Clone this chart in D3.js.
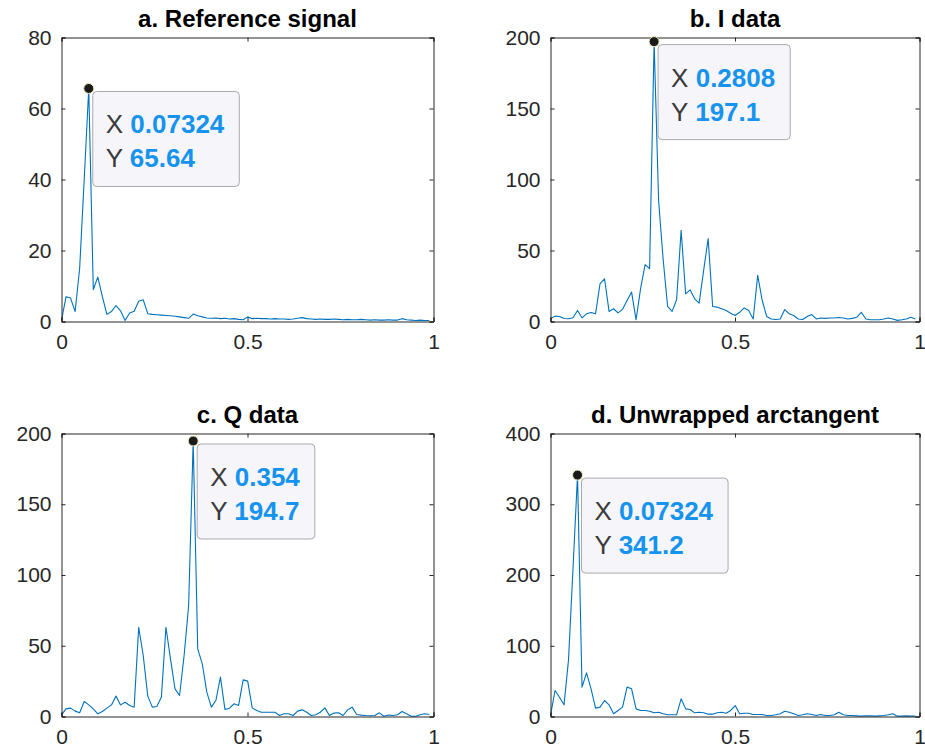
<!DOCTYPE html>
<html><head><meta charset="utf-8">
<script src="https://cdn.jsdelivr.net/npm/d3@7"></script>
<style>
body{margin:0;background:#fff}
svg{display:block}
text{font-family:"Liberation Sans",Arial,Helvetica,sans-serif}
</style>
</head><body>
<svg id="chart" width="925" height="755"></svg>
<script>
// ---------- data ----------
const binWidth = 25 / 2048; // frequency spacing of the FFT bins
const refSignal = [0.3,7.0,6.6,2.8,15.0,40.0,65.64,9.0,12.5,7.0,2.0,2.8,4.5,3.0,0.3,2.4,2.9,5.7,6.1,2.2,
  2.0,1.9,1.8,1.7,1.6,1.5,1.3,1.1,0.9,2.1,1.6,1.3,1.0,0.9,1.0,0.8,0.9,0.7,0.8,0.6,
  0.5,1.3,0.8,0.9,0.8,0.8,0.7,0.8,0.7,0.7,0.6,0.7,0.9,1.1,0.8,0.7,0.6,0.7,0.6,0.6,
  0.7,0.6,0.5,0.6,0.5,0.5,0.6,0.5,0.4,0.5,0.4,0.4,0.5,0.4,0.4,0.8,0.5,0.4,0.3,0.4,0.3,0.3];
const iData = [1.9,3.8,3.5,2.1,1.9,2.6,7.8,2.6,5.4,6.4,5.4,26.6,30.1,7.1,9.0,6.1,8.7,14.8,20.7,1.2,
  23.1,40.1,37.2,197.1,85,44,10.6,7.1,15.3,64.3,19.5,22.3,16.0,12.9,36.0,58.4,10.6,10.1,9.0,7.8,
  5.8,4.2,6.5,9.6,7.7,1.8,32.5,14.8,3.5,1.8,1.4,1.8,8.4,5.4,4.2,1.8,1.4,3.5,4.9,1.8,
  2.5,2.2,2.5,2.5,2.8,2.5,1.8,2.2,3.0,6.5,1.8,1.2,1.2,1.2,1.8,2.5,1.8,0.8,1.2,1.8,3.0,1.8];
const qData = [1.2,5.4,5.9,3.8,2.6,10.6,8.2,5.4,1.9,3.5,5.9,8.2,14.4,8.2,10.1,7.8,6.6,63.1,43.1,14.4,
  6.6,7.1,13.7,63.1,40.7,19.5,14.8,43.1,78.4,194.7,47.8,37.2,17.2,6.6,11.3,27.8,4.9,5.9,9.0,7.8,
  25.9,25.0,6.1,4.2,3.0,3.0,3.0,3.0,0.7,1.9,1.9,0.7,3.8,4.7,3.0,0.7,1.2,3.0,6.1,0.7,
  2.4,2.6,0.7,4.7,6.6,1.4,1.0,0.7,0.5,0.7,2.6,0.2,1.0,0.7,1.2,3.5,1.9,0.2,0.2,1.2,1.9,1.4];
const unwrapped = [1.4,36.7,27.3,16.5,80,210,341.2,41.5,61.7,39.1,11.8,13.2,22.6,16.5,3.8,8.5,13.2,41.5,39.1,10.8,
  8.5,8.5,7.5,5.2,6.1,3.8,2.4,2.4,2.4,25.0,10.8,9.9,5.2,6.1,5.2,3.3,3.3,5.2,6.0,4.5,
  8.5,15.5,3.8,4.7,4.7,2.8,2.8,2.8,1.4,1.4,2.4,3.8,7.5,6.1,3.8,1.4,2.4,3.8,2.8,1.4,
  2.8,1.4,1.4,2.4,6.1,2.4,1.4,1.4,0.9,0.5,0.9,0.9,0.5,0.9,1.4,2.4,3.8,0.5,0.5,0.9,0.5,0.5];

const titles = ["a. Reference signal", "b. I data", "c. Q data", "d. Unwrapped arctangent"];
const xTicks = [0, 0.5, 1];
const xTickLabels = ["0", "0.5", "1"];
const yTicksList = [[0,20,40,60,80], [0,50,100,150,200], [0,50,100,150,200], [0,100,200,300,400]];
const yMaxList = [80, 200, 200, 400];
const tipXLabels = ["0.07324", "0.2808", "0.354", "0.07324"];
const tipYLabels = ["65.64", "197.1", "194.7", "341.2"];
const seriesList = [refSignal, iData, qData, unwrapped];

// ---------- layout ----------
const layout = [
  {x0: 61.5, x1: 433.5, y0: 37.5, y1: 321.5},
  {x0: 550.5, x1: 919.5, y0: 37.5, y1: 321.5},
  {x0: 61.5, x1: 433.5, y0: 433.5, y1: 716.5},
  {x0: 550.5, x1: 919.5, y0: 433.5, y1: 716.5}
];
const axisColor = "#262626";
const lineColor = "#0072BD";
const tickFont = 21, titleFont = 24, tipFont = 26;

const svg = d3.select("#chart");

seriesList.forEach((series, p) => {
  const L = layout[p];
  const x = d3.scaleLinear().domain([0, 1]).range([L.x0, L.x1]);
  const y = d3.scaleLinear().domain([0, yMaxList[p]]).range([L.y1, L.y0]);
  const g = svg.append("g");
  const pts = series.map((v, i) => [i * binWidth, v]);

  // line
  g.append("path")
    .datum(pts)
    .attr("fill", "none")
    .attr("stroke", lineColor)
    .attr("stroke-width", 1.1)
    .attr("stroke-linejoin", "round")
    .attr("d", d3.line().x(d => x(d[0])).y(d => y(d[1])));

  // axes (inward ticks, box on)
  const tl = 4;
  const axB = g.append("g").attr("transform", `translate(0,${L.y1})`)
    .call(d3.axisBottom(x).tickValues(xTicks).tickSize(-tl).tickPadding(10).tickFormat((d, i) => xTickLabels[i]));
  const axT = g.append("g").attr("transform", `translate(0,${L.y0})`)
    .call(d3.axisTop(x).tickValues(xTicks).tickSize(-tl).tickFormat(""));
  const axL = g.append("g").attr("transform", `translate(${L.x0},0)`)
    .call(d3.axisLeft(y).tickValues(yTicksList[p]).tickSize(-tl).tickPadding(10).tickFormat(d3.format("d")));
  const axR = g.append("g").attr("transform", `translate(${L.x1},0)`)
    .call(d3.axisRight(y).tickValues(yTicksList[p]).tickSize(-tl).tickFormat(""));
  [axB, axT, axL, axR].forEach(a => {
    a.select(".domain").attr("stroke", axisColor).attr("stroke-width", 1);
    a.selectAll(".tick line").attr("stroke", axisColor).attr("stroke-width", 1);
    a.selectAll(".tick text").attr("fill", axisColor).attr("font-size", tickFont)
      .attr("font-family", "'Liberation Sans', Arial, sans-serif");
  });
  axB.selectAll(".tick text").attr("dy", "0.85em");

  // title
  g.append("text")
    .attr("x", (L.x0 + L.x1) / 2)
    .attr("y", L.y0 - 11)
    .attr("text-anchor", "middle")
    .attr("font-size", titleFont)
    .attr("font-weight", "bold")
    .attr("fill", "#000")
    .text(titles[p]);

  // datatip at the peak
  const pk = d3.maxIndex(series);
  const mx = x(pk * binWidth), my = y(series[pk]);
  const bx = mx + 4, by = my + 3;
  const tipG = g.append("g");
  const rect = tipG.append("rect")
    .attr("x", bx).attr("y", by).attr("rx", 4).attr("ry", 4)
    .attr("height", 95)
    .attr("fill", "#f6f6fa").attr("stroke", "#a9a9ad").attr("stroke-width", 1);
  const t1 = tipG.append("text").attr("x", bx + 13).attr("y", by + 42).attr("font-size", tipFont);
  t1.append("tspan").attr("fill", "#3a3a3a").text("X ");
  t1.append("tspan").attr("fill", "#1593ee").attr("font-weight", "bold").text(tipXLabels[p]);
  const t2 = tipG.append("text").attr("x", bx + 13).attr("y", by + 76).attr("font-size", tipFont);
  t2.append("tspan").attr("fill", "#3a3a3a").text("Y ");
  t2.append("tspan").attr("fill", "#1593ee").attr("font-weight", "bold").text(tipYLabels[p]);
  const w = Math.max(t1.node().getComputedTextLength(), t2.node().getComputedTextLength());
  rect.attr("width", w + 28);

  g.append("circle")
    .attr("cx", mx).attr("cy", my).attr("r", 5)
    .attr("fill", "#1a1a1a").attr("stroke", "#f3eec0").attr("stroke-width", 1);
});
</script>
</body></html>
